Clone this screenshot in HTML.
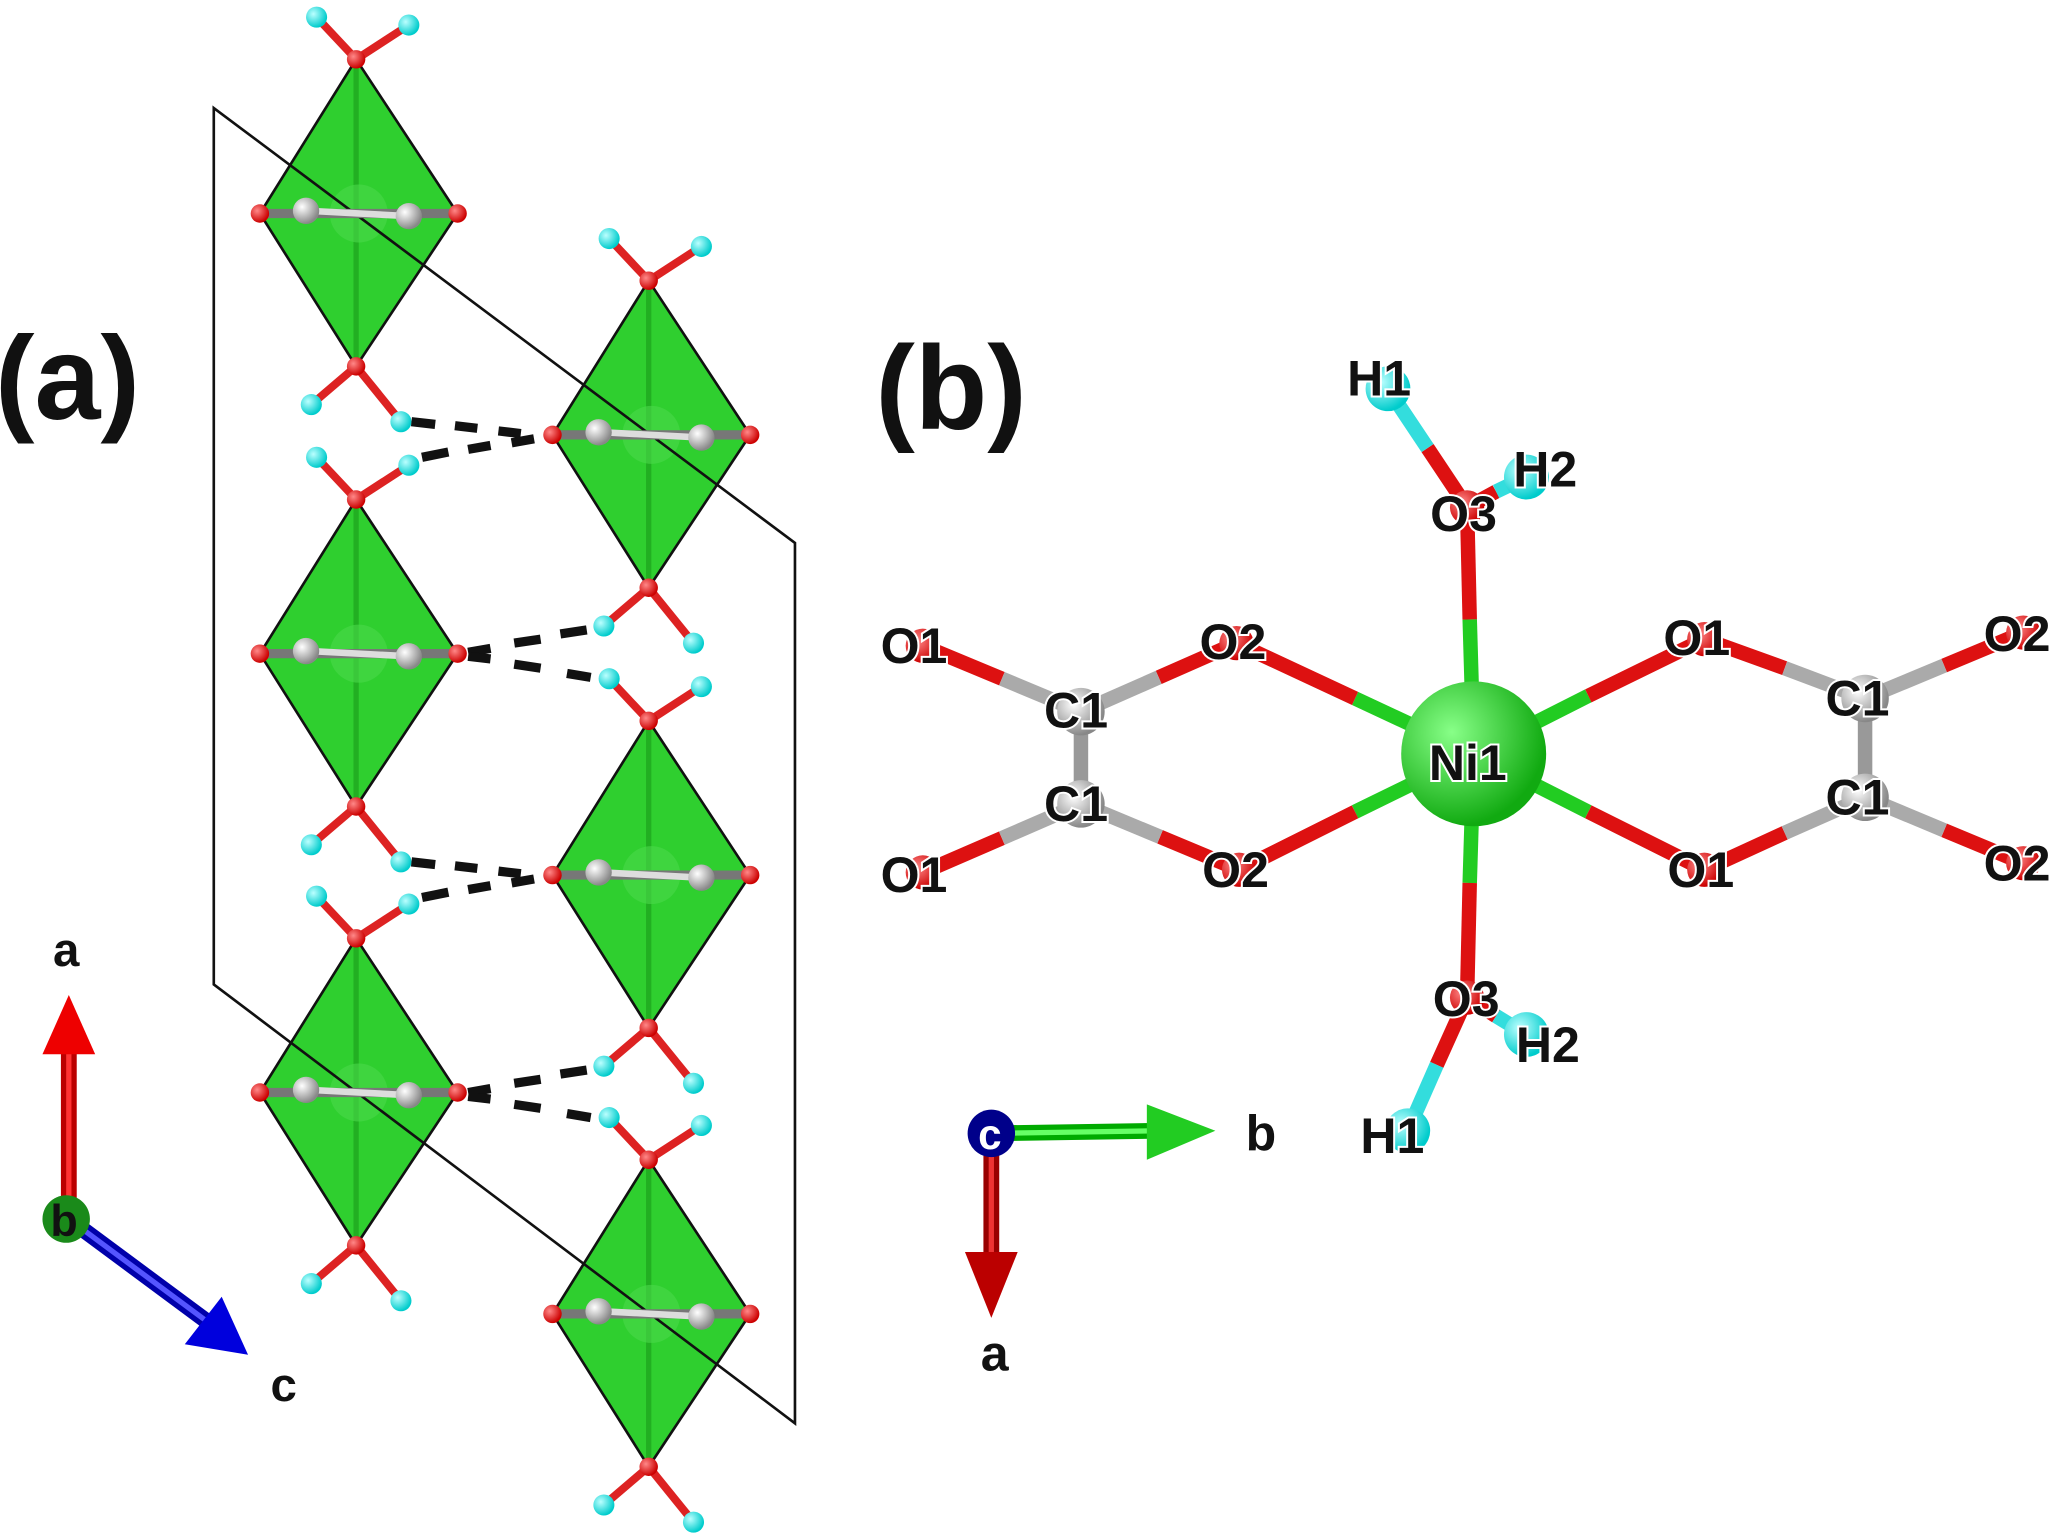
<!DOCTYPE html>
<html><head><meta charset="utf-8"><style>
html,body{margin:0;padding:0;background:#fff;}
svg{display:block;}
text{font-family:"Liberation Sans",Arial,sans-serif;font-weight:bold;}
.lbl{font-size:38px;fill:#111;paint-order:stroke;stroke:#fff;stroke-width:3px;}
</style></head><body>
<svg width="2067" height="1534" viewBox="0 0 1568 1164" xmlns="http://www.w3.org/2000/svg">
<defs>
<radialGradient id="gH" cx="35%" cy="35%" r="65%"><stop offset="0" stop-color="#bff"/><stop offset="1" stop-color="#0cc"/></radialGradient>
<radialGradient id="gO" cx="35%" cy="35%" r="65%"><stop offset="0" stop-color="#f88"/><stop offset="1" stop-color="#c00"/></radialGradient>
<radialGradient id="gC" cx="35%" cy="35%" r="65%"><stop offset="0" stop-color="#fff"/><stop offset="1" stop-color="#888"/></radialGradient>
<radialGradient id="gN" cx="35%" cy="35%" r="65%"><stop offset="0" stop-color="#8f8"/><stop offset="1" stop-color="#1a1"/></radialGradient>
<g id="octA">
 <polygon points="0,0 77,117 0,233 -73,117" fill="#2fcf2f" stroke="#111" stroke-width="2"/>
 <line x1="0" y1="0" x2="0" y2="233" stroke="#1a9a1a" stroke-width="4" opacity="0.6"/>
 <circle cx="2" cy="117" r="22" fill="#4bd84b" opacity="0.6"/>
</g>
<g id="octB">
 <line x1="-73" y1="117" x2="77" y2="117" stroke="#777" stroke-width="7"/>
 <line x1="-35" y1="115" x2="40" y2="119" stroke="#ddd" stroke-width="5"/>
 <circle cx="-38" cy="115" r="10" fill="url(#gC)"/>
 <circle cx="40" cy="119" r="10" fill="url(#gC)"/>
 <circle cx="-73" cy="117" r="7" fill="url(#gO)"/>
 <circle cx="77" cy="117" r="7" fill="url(#gO)"/>
 <line x1="0" y1="0" x2="-30" y2="-32" stroke="#d22" stroke-width="6"/>
 <line x1="0" y1="0" x2="40" y2="-26" stroke="#d22" stroke-width="6"/>
 <circle cx="-30" cy="-32" r="8" fill="url(#gH)"/>
 <circle cx="40" cy="-26" r="8" fill="url(#gH)"/>
 <circle cx="0" cy="0" r="7" fill="url(#gO)"/>
 <line x1="0" y1="233" x2="-34" y2="262" stroke="#d22" stroke-width="6"/>
 <line x1="0" y1="233" x2="34" y2="275" stroke="#d22" stroke-width="6"/>
 <circle cx="-34" cy="262" r="8" fill="url(#gH)"/>
 <circle cx="34" cy="275" r="8" fill="url(#gH)"/>
 <circle cx="0" cy="233" r="7" fill="url(#gO)"/>
</g>
</defs>
<rect width="1568" height="1164" fill="#fff"/>
<text x="-4" y="318" font-size="90" fill="#111">(a)</text>
<text x="664" y="325" font-size="90" fill="#111">(b)</text>
<use href="#octA" x="270" y="45"/>
<use href="#octA" x="270" y="379"/>
<use href="#octA" x="270" y="712"/>
<use href="#octA" x="492" y="213"/>
<use href="#octA" x="492" y="547"/>
<use href="#octA" x="492" y="880"/>
<polygon points="162,82 603,412 603,1080 162,747" fill="none" stroke="#111" stroke-width="2"/>
<use href="#octB" x="270" y="45"/>
<use href="#octB" x="270" y="379"/>
<use href="#octB" x="270" y="712"/>
<use href="#octB" x="492" y="213"/>
<use href="#octB" x="492" y="547"/>
<use href="#octB" x="492" y="880"/>
<g stroke="#111" stroke-width="7">
<line x1="312" y1="320" x2="330" y2="322"/><line x1="345" y1="323" x2="362" y2="325"/><line x1="378" y1="327" x2="395" y2="329"/>
<line x1="320" y1="347" x2="340" y2="343"/><line x1="355" y1="341" x2="372" y2="338"/><line x1="388" y1="336" x2="405" y2="333"/>
<line x1="355" y1="495" x2="372" y2="492"/><line x1="390" y1="488" x2="410" y2="485"/><line x1="425" y1="481" x2="445" y2="478"/>
<line x1="355" y1="498" x2="372" y2="500"/><line x1="390" y1="504" x2="410" y2="507"/><line x1="430" y1="511" x2="448" y2="514"/>
<line x1="312" y1="654" x2="330" y2="656"/><line x1="345" y1="657" x2="362" y2="659"/><line x1="378" y1="661" x2="395" y2="663"/>
<line x1="320" y1="681" x2="340" y2="677"/><line x1="355" y1="675" x2="372" y2="672"/><line x1="388" y1="670" x2="405" y2="667"/>
<line x1="355" y1="829" x2="372" y2="826"/><line x1="390" y1="822" x2="410" y2="819"/><line x1="425" y1="815" x2="445" y2="812"/>
<line x1="355" y1="832" x2="372" y2="834"/><line x1="390" y1="838" x2="410" y2="841"/><line x1="430" y1="845" x2="448" y2="848"/>
</g>
<!-- axes a -->
<line x1="52" y1="925" x2="52" y2="795" stroke="#b00" stroke-width="12"/>
<line x1="52" y1="925" x2="52" y2="795" stroke="#f33" stroke-width="4"/>
<polygon points="32,800 72,800 52,755" fill="#e00"/>
<line x1="52" y1="925" x2="160" y2="1005" stroke="#00a" stroke-width="12"/>
<line x1="52" y1="925" x2="160" y2="1005" stroke="#55f" stroke-width="4"/>
<polygon points="140,1020 168,984 188,1028" fill="#00d"/>
<circle cx="50" cy="925" r="18" fill="#1a8a1a"/>
<text x="38" y="938" font-size="34" fill="#111">b</text>
<text x="40" y="733" font-size="36" fill="#111">a</text>
<text x="205" y="1063" font-size="36" fill="#111">c</text>
<!-- panel b bonds -->
<g stroke-width="11" stroke-linecap="butt">
<line x1="1118" y1="572" x2="1115" y2="470" stroke="#2c2"/><line x1="1115" y1="470" x2="1113" y2="385" stroke="#d11"/>
<line x1="1118" y1="572" x2="1115" y2="670" stroke="#2c2"/><line x1="1115" y1="670" x2="1113" y2="757" stroke="#d11"/>
<line x1="1118" y1="572" x2="1028" y2="530" stroke="#2c2"/><line x1="1028" y1="530" x2="938" y2="488" stroke="#d11"/>
<line x1="1118" y1="572" x2="1028" y2="616" stroke="#2c2"/><line x1="1028" y1="616" x2="940" y2="660" stroke="#d11"/>
<line x1="1118" y1="572" x2="1205" y2="528" stroke="#2c2"/><line x1="1205" y1="528" x2="1293" y2="485" stroke="#d11"/>
<line x1="1118" y1="572" x2="1205" y2="616" stroke="#2c2"/><line x1="1205" y1="616" x2="1293" y2="660" stroke="#d11"/>
<line x1="820" y1="540" x2="820" y2="610" stroke="#999"/>
<line x1="1415" y1="530" x2="1415" y2="605" stroke="#999"/>
<line x1="700" y1="490" x2="760" y2="515" stroke="#d11"/><line x1="760" y1="515" x2="820" y2="540" stroke="#aaa"/>
<line x1="700" y1="662" x2="760" y2="636" stroke="#d11"/><line x1="760" y1="636" x2="820" y2="610" stroke="#aaa"/>
<line x1="938" y1="488" x2="879" y2="514" stroke="#d11"/><line x1="879" y1="514" x2="820" y2="540" stroke="#aaa"/>
<line x1="940" y1="660" x2="880" y2="635" stroke="#d11"/><line x1="880" y1="635" x2="820" y2="610" stroke="#aaa"/>
<line x1="1293" y1="485" x2="1354" y2="507" stroke="#d11"/><line x1="1354" y1="507" x2="1415" y2="530" stroke="#aaa"/>
<line x1="1293" y1="660" x2="1354" y2="632" stroke="#d11"/><line x1="1354" y1="632" x2="1415" y2="605" stroke="#aaa"/>
<line x1="1535" y1="480" x2="1475" y2="505" stroke="#d11"/><line x1="1475" y1="505" x2="1415" y2="530" stroke="#aaa"/>
<line x1="1535" y1="655" x2="1475" y2="630" stroke="#d11"/><line x1="1475" y1="630" x2="1415" y2="605" stroke="#aaa"/>
<line x1="1113" y1="385" x2="1083" y2="340" stroke="#d11"/><line x1="1083" y1="340" x2="1053" y2="295" stroke="#3dd"/>
<line x1="1113" y1="385" x2="1135" y2="373" stroke="#d11"/><line x1="1135" y1="373" x2="1158" y2="362" stroke="#3dd"/>
<line x1="1113" y1="757" x2="1090" y2="808" stroke="#d11"/><line x1="1090" y1="808" x2="1068" y2="858" stroke="#3dd"/>
<line x1="1113" y1="757" x2="1135" y2="771" stroke="#d11"/><line x1="1135" y1="771" x2="1158" y2="785" stroke="#3dd"/>
</g>
<circle cx="1118" cy="572" r="55" fill="url(#gN)"/>
<g fill="url(#gO)">
<circle cx="1113" cy="385" r="13"/><circle cx="1113" cy="757" r="13"/>
<circle cx="938" cy="488" r="13"/><circle cx="940" cy="660" r="13"/>
<circle cx="700" cy="490" r="13"/><circle cx="700" cy="662" r="13"/>
<circle cx="1293" cy="485" r="13"/><circle cx="1293" cy="660" r="13"/>
<circle cx="1535" cy="480" r="13"/><circle cx="1535" cy="655" r="13"/>
</g>
<g fill="url(#gC)">
<circle cx="820" cy="540" r="18"/><circle cx="820" cy="610" r="18"/>
<circle cx="1415" cy="530" r="18"/><circle cx="1415" cy="605" r="18"/>
</g>
<g fill="url(#gH)">
<circle cx="1053" cy="295" r="17"/><circle cx="1158" cy="362" r="17"/>
<circle cx="1068" cy="858" r="17"/><circle cx="1158" cy="785" r="17"/>
</g>
<g class="lbl">
<text x="1084" y="592">Ni1</text>
<text x="1085" y="403">O3</text><text x="1087" y="771">O3</text>
<text x="1022" y="300">H1</text><text x="1148" y="369">H2</text>
<text x="1150" y="806">H2</text><text x="1032" y="875">H1</text>
<text x="668" y="503">O1</text><text x="668" y="677">O1</text>
<text x="910" y="500">O2</text><text x="912" y="673">O2</text>
<text x="792" y="552">C1</text><text x="792" y="623">C1</text>
<text x="1262" y="497">O1</text><text x="1265" y="673">O1</text>
<text x="1385" y="543">C1</text><text x="1385" y="618">C1</text>
<text x="1505" y="494">O2</text><text x="1505" y="668">O2</text>
</g>
<!-- axes b -->
<line x1="752" y1="860" x2="880" y2="858" stroke="#0a0" stroke-width="12"/>
<line x1="752" y1="860" x2="880" y2="858" stroke="#6f6" stroke-width="4"/>
<polygon points="870,838 870,880 922,858" fill="#2c2"/>
<line x1="752" y1="860" x2="752" y2="955" stroke="#900" stroke-width="12"/>
<line x1="752" y1="860" x2="752" y2="955" stroke="#e33" stroke-width="4"/>
<polygon points="732,950 772,950 752,1000" fill="#b00"/>
<circle cx="752" cy="860" r="18" fill="#00008a"/>
<text x="742" y="872" font-size="32" fill="#fff">c</text>
<text x="945" y="873" font-size="38" fill="#111">b</text>
<text x="744" y="1040" font-size="38" fill="#111">a</text>
</svg>
</body></html>
